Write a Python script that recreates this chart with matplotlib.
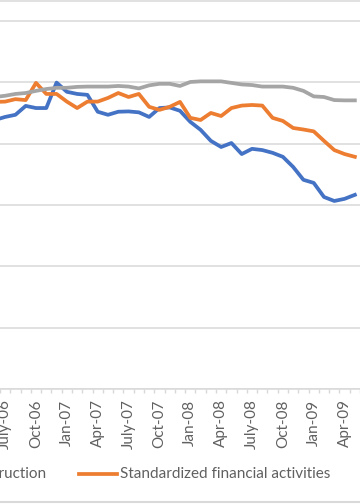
import matplotlib
matplotlib.use("Agg")
import matplotlib.pyplot as plt
from matplotlib.lines import Line2D

plt.rcParams["font.family"] = ["Lato", "DejaVu Sans"]

# monthly series, Jun-06 .. May-09
mois = [
    "Jun-06", "July-06", "Aug-06", "Sep-06", "Oct-06", "Nov-06", "Dec-06",
    "Jan-07", "Feb-07", "Mar-07", "Apr-07", "May-07", "Jun-07", "July-07",
    "Aug-07", "Sep-07", "Oct-07", "Nov-07", "Dec-07", "Jan-08", "Feb-08",
    "Mar-08", "Apr-08", "May-08", "Jun-08", "July-08", "Aug-08", "Sep-08",
    "Oct-08", "Nov-08", "Dec-08", "Jan-09", "Feb-09", "Mar-09", "Apr-09",
    "May-09",
]
construction = [
    87.7, 88.7, 89.4, 92.3, 91.6, 91.6, 99.9, 96.9, 96.2, 95.9, 90.4, 89.4,
    90.4, 90.5, 90.2, 88.7, 91.6, 91.8, 90.7, 87.1, 84.5, 80.9, 78.9, 80.2,
    76.6, 78.3, 77.9, 77.0, 75.7, 72.4, 68.2, 67.2, 62.6, 61.3, 62.0, 63.3,
]
financieras = [
    93.6, 93.7, 94.5, 94.2, 99.8, 96.2, 96.2, 93.7, 91.6, 93.7, 93.7, 94.9,
    96.5, 95.2, 96.2, 92.0, 91.0, 92.0, 93.6, 88.4, 87.7, 90.0, 89.0, 91.6,
    92.4, 92.6, 92.4, 88.4, 87.4, 85.1, 84.6, 84.0, 80.9, 77.9, 76.6, 75.7,
]
total = [
    95.2, 95.6, 96.2, 96.5, 97.2, 97.8, 98.2, 98.2, 98.5, 98.6, 98.6, 98.6,
    98.8, 98.6, 98.0, 99.0, 99.5, 99.5, 98.8, 100.1, 100.3, 100.3, 100.3, 99.8,
    99.3, 99.1, 98.6, 98.6, 98.6, 98.2, 97.2, 95.4, 95.2, 94.2, 94.1, 94.1,
]
etiquetas = mois[1::3]

W, H = 360, 504
fig = plt.figure(figsize=(W / 100, H / 100), dpi=100)
# zoomed-in crop: the axes run past both edges of the figure
ax = fig.add_axes([0, 1 - 389 / H, 1, 388 / H])

x = list(range(len(mois)))
ax.plot(x, construction, color="#4472C4", lw=2.7, solid_joinstyle="round")
ax.plot(x, financieras, color="#ED7D31", lw=2.7, solid_joinstyle="round")
ax.plot(x, total, color="#A5A5A5", lw=2.7, solid_joinstyle="round")

ax.set_xlim(0.62, 34.05)
ax.set_ylim(0, 126.5)
ax.set_yticks([0, 20, 40, 60, 80, 100, 120])
ax.yaxis.grid(True, color="#d9d9d9", lw=1.1)
ax.set_axisbelow(True)
ax.tick_params(axis="y", left=False, labelleft=False)

ax.set_xticks(x[1::3])
ax.set_xticklabels(etiquetas, rotation=90, color="#606060", fontsize=11)
ax.set_xticks([i + 0.5 for i in x], minor=True)
ax.tick_params(axis="x", which="major", length=0, pad=7.5)
ax.tick_params(axis="x", which="minor", length=3, width=1, color="#d9d9d9")

for s in ["left", "right"]:
    ax.spines[s].set_visible(False)
ax.spines["bottom"].set_color("#d9d9d9")
ax.spines["bottom"].set_linewidth(1.1)
ax.spines["top"].set_color("#d9d9d9")
ax.spines["top"].set_linewidth(1.1)

# legend (partly outside the crop)
ly = 1 - 474 / H
fig.add_artist(Line2D([-80 / W, -40 / W], [ly, ly], color="#4472C4", lw=2.7))
fig.text(46 / W, ly, "Construction", ha="right", va="center", color="#606060", fontsize=11)
fig.add_artist(Line2D([79 / W, 117 / W], [ly, ly], color="#ED7D31", lw=2.7))
fig.text(120 / W, ly, "Standardized financial activities", ha="left", va="center",
         color="#606060", fontsize=11)

# chart border at the bottom
fig.add_artist(Line2D([0, 1], [1 - 502 / H, 1 - 502 / H], color="#d9d9d9", lw=1.5))

fig.savefig("out.png", dpi=100)
